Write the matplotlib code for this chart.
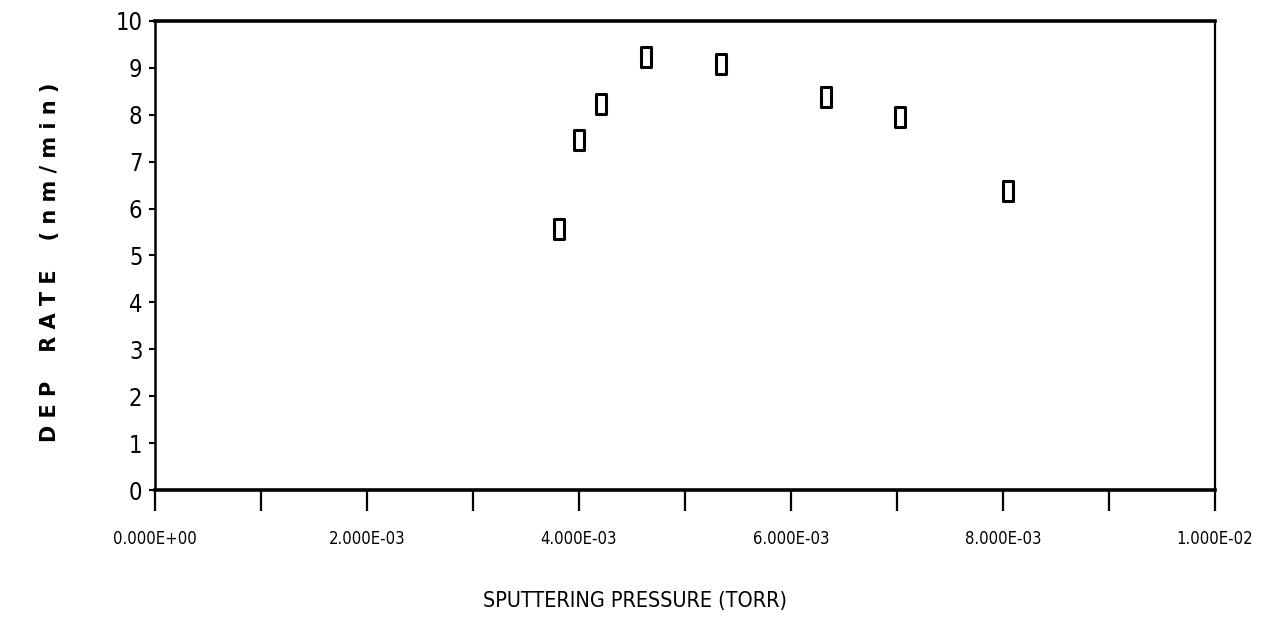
import matplotlib
matplotlib.use("Agg")
import matplotlib.pyplot as plt
from matplotlib.path import Path
from matplotlib.ticker import MultipleLocator, FuncFormatter

# data
pressure = [3.81e-3, 4.00e-3, 4.21e-3, 4.63e-3, 5.34e-3, 6.33e-3, 7.03e-3, 8.05e-3]
dep_rate = [5.56, 7.47, 8.22, 9.24, 9.09, 8.37, 7.96, 6.37]

x_ticks = [0.0, 2e-3, 4e-3, 6e-3, 8e-3, 1e-2]
y_ticks = list(range(0, 11))

plt.rcParams["font.family"] = ["DejaVu Sans"]
plt.rcParams["font.stretch"] = "condensed"

# tall hollow box marker like the plotter's
box = Path([(-0.5, -1), (0.5, -1), (0.5, 1), (-0.5, 1), (-0.5, -1)],
           [Path.MOVETO, Path.LINETO, Path.LINETO, Path.LINETO, Path.CLOSEPOLY])

fig = plt.figure(figsize=(12.69, 6.39), dpi=100)
ax = fig.add_axes([155 / 1269, 1 - 490 / 639, (1215 - 155) / 1269, (490 - 21) / 639])

ax.plot(pressure, dep_rate, linestyle="none", marker=box, markersize=14,
        markerfacecolor="white", markeredgecolor="black", markeredgewidth=2.2)

ax.set_xlim(0, 0.01)
ax.set_ylim(0, 10)

ax.set_xticks(x_ticks)
ax.xaxis.set_minor_locator(MultipleLocator(0.001))
ax.xaxis.set_major_formatter(FuncFormatter(lambda v, p: f"{v:.3E}"))
ax.set_yticks(y_ticks)

ax.tick_params(axis="x", which="both", direction="out", length=15, width=1.6,
               labelsize=12, pad=14, top=False)
ax.tick_params(axis="y", which="major", direction="out", length=4, width=1.5,
               labelsize=17, pad=5, right=False)

ax.spines["top"].set_linewidth(2.6)
ax.spines["bottom"].set_linewidth(2.6)
ax.spines["left"].set_linewidth(1.8)
ax.spines["right"].set_linewidth(1.6)

fig.text(635 / 1269, 1 - 601 / 639, "SPUTTERING PRESSURE (TORR)", ha="center", va="center",
         fontsize=15.5)
fig.text(50 / 1269, 1 - 262 / 639, "D E P    R A T E    ( n m / m i n )", rotation=90,
         ha="center", va="center", fontsize=15, fontweight="bold", fontstretch="normal")

fig.savefig("out.png", dpi=100, facecolor="white")
